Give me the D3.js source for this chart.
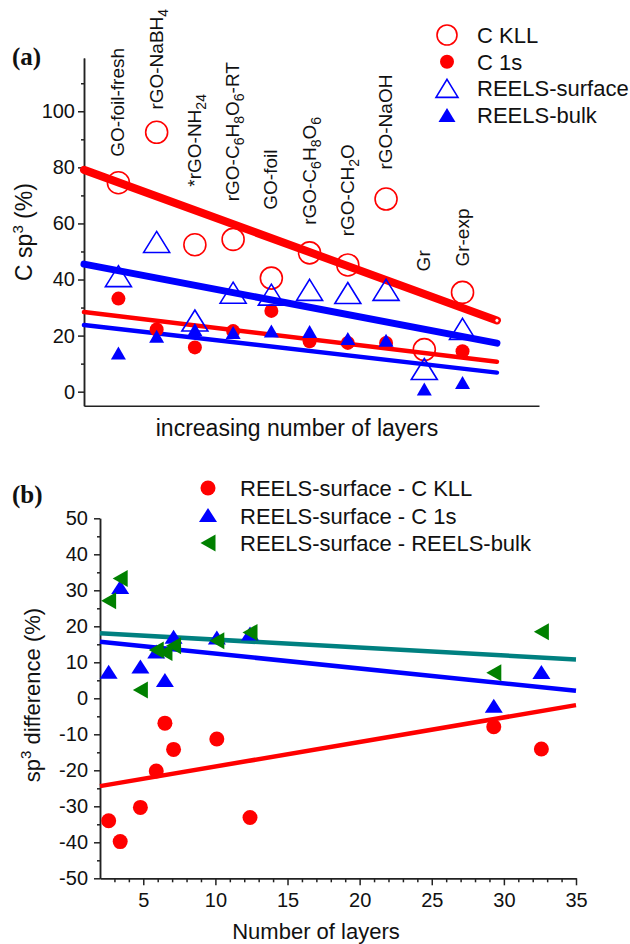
<!DOCTYPE html>
<html>
<head>
<meta charset="utf-8">
<script src="https://cdnjs.cloudflare.com/ajax/libs/d3/7.8.5/d3.min.js"></script>
<style>
  body { margin: 0; background: #fff; }
  svg text { font-family: "Liberation Sans", Arial, sans-serif; fill: #111; }
  .axis path, .axis line { stroke: #222; stroke-width: 1.5px; }
  .axis text { font-size: 20px; fill: #111; }
</style>
</head>
<body>
<div class="chart"></div>
<script>
////////////////////////////////// data

// panel (a): samples, "_" marks a subscript digit
var categories = ["GO-foil-fresh", "rGO-NaBH_4", "*rGO-NH_2_4", "rGO-C_6H_8O_6-RT", "GO-foil",
                  "rGO-C_6H_8O_6", "rGO-CH_2O", "rGO-NaOH", "Gr", "Gr-exp"];
var labelBase = [83.8, 100.6, 73.1, 67.9, 64.9, 59.5, 55.4, 79.2, 42.9, 44.6];

var cKLL = [74.5, 92.5, 52.4, 54.3, 40.5, 49.5, 45.2, 68.7, 15.0, 35.4];
var c1s = [33.2, 22.2, 15.8, 21.6, 28.8, 18.0, 17.4, 17.4, null, 14.4];
var reelsSurface = [41.2, 53.4, 25.4, 35.3, 34.6, 36.3, 35.2, 36.3, 8.1, 22.4];
var reelsBulk = [13.8, 19.8, 22.2, 21.1, 21.6, 21.5, 19.0, 18.3, 1.0, 3.3];

// linear fits, [x, y] ends
var fitKLL = [[0.1, 79.1], [10.9, 25.4]];
var fitSurface = [[0.1, 45.5], [10.9, 17.3]];
var fit1s = [[0.1, 28.4], [10.9, 10.7]];
var fitBulk = [[0.1, 23.8], [10.9, 6.8]];

var yTicksA = [0, 20, 40, 60, 80, 100];

// panel (b)
var layers = [2.6, 3.4, 4.8, 5.9, 6.5, 7.1, 10.1, 12.4, 29.3, 32.6];
var diffKLL = [-34.0, -39.8, -30.3, -20.2, -6.9, -14.2, -11.3, -33.1, -7.9, -14.1];
var diff1s = [7.4, 30.9, 8.8, 13.0, 5.1, 17.1, 16.9, 18.0, -2.1, 7.3];
var diffBulk = [27.1, 33.3, 2.3, 13.4, 12.7, 14.6, 16.0, 18.3, 7.1, 18.5];

var fitDiffKLL = [[2, -24.4], [35, -1.9]];
var fitDiff1s = [[2, 15.7], [35, 2.1]];
var fitDiffBulk = [[2, 18.05], [35, 10.8]];

var yTicksB = [-50, -40, -30, -20, -10, 0, 10, 20, 30, 40, 50];
var xTicksB = [5, 10, 15, 20, 25, 30, 35];

var legendA = ["C KLL", "C 1s", "REELS-surface", "REELS-bulk"];
var legendB = ["REELS-surface - C KLL", "REELS-surface - C 1s", "REELS-surface - REELS-bulk"];

////////////////////////////////// helpers

var RED = "#ff0000", BLUE = "#0000ff", GREEN = "#008000", TEAL = "#008080";

// triangle path centred on its bounding box
function triUp(w, h) {
    return "M0," + (-h / 2) + "L" + (w / 2) + "," + (h / 2) + "L" + (-w / 2) + "," + (h / 2) + "Z";
}
function triLeft(w, h) {
    return "M" + (-w / 2) + ",0L" + (w / 2) + "," + (-h / 2) + "L" + (w / 2) + "," + (h / 2) + "Z";
}

// writes "abc_4" as text with subscript tspans
function richText(sel, str, subSize) {
    var parts = str.split(/(_\d)/).filter(function(p) { return p.length; });
    var down = false;
    parts.forEach(function(p) {
        var t = sel.append("tspan");
        if (p[0] == "_") {
            t.text(p.slice(1)).style("font-size", subSize + "px").attr("dy", down ? 0 : 5);
            down = true;
        } else {
            t.text(p).attr("dy", down ? -5 : 0);
            down = false;
        }
    });
}

var svg = d3.select(".chart").append("svg").attr("width", 630).attr("height", 944);

////////////////////////////////// panel (a)

var xa = d3.scaleLinear().domain([0.1, 12]).range([84, 539]);
var ya = d3.scaleLinear().domain([-5, 119]).range([405.7, 58]);
var gA = svg.append("g");

gA.append("g").attr("class", "axis").attr("transform", "translate(84,0)")
    .call(d3.axisLeft(ya).tickValues([10, 30, 50, 70, 90, 110]).tickSize(3).tickSizeOuter(0).tickFormat(""));
gA.append("g").attr("class", "axis").attr("transform", "translate(84,0)")
    .call(d3.axisLeft(ya).tickValues(yTicksA).tickSize(6).tickSizeOuter(0).tickPadding(3));
gA.append("g").attr("class", "axis").attr("transform", "translate(0,405.7)")
    .call(d3.axisBottom(xa).tickValues([]).tickSizeOuter(0));

var line = d3.line();
function fitLine(g, pts, xs, ys, color, w) {
    g.append("path")
        .attr("d", line(pts.map(function(p) { return [xs(p[0]), ys(p[1])]; })))
        .attr("fill", "none").attr("stroke", color).attr("stroke-width", w)
        .attr("stroke-linecap", "round");
}
fitLine(gA, fitKLL, xa, ya, RED, 8);
fitLine(gA, fitSurface, xa, ya, BLUE, 7);
fitLine(gA, fit1s, xa, ya, RED, 4.5);
fitLine(gA, fitBulk, xa, ya, BLUE, 4.5);
// small white end marker on the thick red fit
gA.append("circle").attr("cx", xa(fitKLL[1][0])).attr("cy", ya(fitKLL[1][1])).attr("r", 2)
    .attr("fill", "#fff").attr("stroke", RED).attr("stroke-width", 0.8);

var idx = d3.range(categories.length);

gA.selectAll(".kll").data(idx).enter().append("circle")
    .attr("cx", function(i) { return xa(i + 1); })
    .attr("cy", function(i) { return ya(cKLL[i]); })
    .attr("r", 11).attr("fill", "none").attr("stroke", RED).attr("stroke-width", 1.6);

gA.selectAll(".c1s").data(idx.filter(function(i) { return c1s[i] != null; })).enter().append("circle")
    .attr("cx", function(i) { return xa(i + 1); })
    .attr("cy", function(i) { return ya(c1s[i]); })
    .attr("r", 7).attr("fill", RED);

gA.selectAll(".surf").data(idx).enter().append("path")
    .attr("d", triUp(26, 21))
    .attr("transform", function(i) { return "translate(" + xa(i + 1) + "," + ya(reelsSurface[i]) + ")"; })
    .attr("fill", "none").attr("stroke", BLUE).attr("stroke-width", 1.6);

gA.selectAll(".bulk").data(idx).enter().append("path")
    .attr("d", triUp(15, 13))
    .attr("transform", function(i) { return "translate(" + xa(i + 1) + "," + ya(reelsBulk[i]) + ")"; })
    .attr("fill", BLUE);

// rotated sample labels
idx.forEach(function(i) {
    var t = gA.append("text")
        .attr("transform", "translate(" + (xa(i + 1) + 6) + "," + ya(labelBase[i]) + ") rotate(-90)")
        .style("font-size", "19px");
    richText(t, categories[i], 14);
});

// axis titles
var ttlA = gA.append("text").attr("transform", "translate(32,232) rotate(-90)")
    .attr("text-anchor", "middle").style("font-size", "23px");
ttlA.append("tspan").text("C sp");
ttlA.append("tspan").text("3").style("font-size", "15px").attr("dy", -9);
ttlA.append("tspan").text(" (%)").attr("dy", 9);

gA.append("text").attr("x", 297).attr("y", 436).attr("text-anchor", "middle")
    .style("font-size", "23px").text("increasing number of layers");

gA.append("text").attr("x", 12).attr("y", 65)
    .style("font-family", "'Liberation Serif', 'Times New Roman', serif")
    .style("font-weight", "bold").style("font-size", "25px").text("(a)");

// legend (a)
var legA = gA.append("g").attr("transform", "translate(447,35)");
legA.append("circle").attr("cy", 0).attr("r", 10).attr("fill", "none").attr("stroke", RED).attr("stroke-width", 1.6);
legA.append("circle").attr("cy", 26.7).attr("r", 7).attr("fill", RED);
legA.append("path").attr("d", triUp(22, 18)).attr("transform", "translate(0,53.4)")
    .attr("fill", "none").attr("stroke", BLUE).attr("stroke-width", 1.6);
legA.append("path").attr("d", triUp(17, 14)).attr("transform", "translate(0,80)").attr("fill", BLUE);
legA.selectAll("text").data(legendA).enter().append("text")
    .attr("x", 30).attr("y", function(d, i) { return i * 26.7 + 8; })
    .style("font-size", "22px").text(function(d) { return d; });

////////////////////////////////// panel (b)

var xb = d3.scaleLinear().domain([2, 35]).range([100, 576]);
var yb = d3.scaleLinear().domain([-50, 50]).range([878.3, 518.3]);
var gB = svg.append("g");

gB.append("g").attr("class", "axis").attr("transform", "translate(100,0)")
    .call(d3.axisLeft(yb).tickValues(d3.range(-45, 50, 10)).tickSize(3).tickSizeOuter(0).tickFormat(""));
gB.append("g").attr("class", "axis").attr("transform", "translate(100,0)")
    .call(d3.axisLeft(yb).tickValues(yTicksB).tickSize(6).tickSizeOuter(0).tickPadding(6)
        .tickFormat(d3.format("d")));
gB.append("g").attr("class", "axis").attr("transform", "translate(0,878.3)")
    .call(d3.axisBottom(xb).tickValues(d3.range(3, 35).filter(function(v) { return v % 5; }))
        .tickSize(4).tickSizeOuter(0).tickFormat(""));
gB.append("g").attr("class", "axis").attr("transform", "translate(0,878.3)")
    .call(d3.axisBottom(xb).tickValues(xTicksB).tickSize(7).tickSizeOuter(0).tickPadding(8));
// hyphen instead of unicode minus, like the original
gB.selectAll(".axis text").each(function() {
    var s = d3.select(this); s.text(s.text().replace("\u2212", "-"));
});

fitLine(gB, fitDiffBulk, xb, yb, TEAL, 4.5);
fitLine(gB, fitDiff1s, xb, yb, BLUE, 4.5);
fitLine(gB, fitDiffKLL, xb, yb, RED, 4.5);
gB.selectAll("path[stroke-linecap]").attr("stroke-linecap", "butt");

var idxB = d3.range(layers.length);
gB.selectAll(".dk").data(idxB).enter().append("circle")
    .attr("cx", function(i) { return xb(layers[i]); })
    .attr("cy", function(i) { return yb(diffKLL[i]); })
    .attr("r", 7.5).attr("fill", RED);
gB.selectAll(".d1").data(idxB).enter().append("path")
    .attr("d", triUp(18, 14))
    .attr("transform", function(i) { return "translate(" + xb(layers[i]) + "," + yb(diff1s[i]) + ")"; })
    .attr("fill", BLUE);
gB.selectAll(".db").data(idxB).enter().append("path")
    .attr("d", triLeft(15, 17))
    .attr("transform", function(i) { return "translate(" + xb(layers[i]) + "," + yb(diffBulk[i]) + ")"; })
    .attr("fill", GREEN);

var ttlB = gB.append("text").attr("transform", "translate(40,695) rotate(-90)")
    .attr("text-anchor", "middle").style("font-size", "22px");
ttlB.append("tspan").text("sp");
ttlB.append("tspan").text("3").style("font-size", "15px").attr("dy", -9);
ttlB.append("tspan").text(" difference (%)").attr("dy", 9);

gB.append("text").attr("x", 316).attr("y", 939).attr("text-anchor", "middle")
    .style("font-size", "22px").text("Number of layers");

gB.append("text").attr("x", 12).attr("y", 503)
    .style("font-family", "'Liberation Serif', 'Times New Roman', serif")
    .style("font-weight", "bold").style("font-size", "25px").text("(b)");

// legend (b)
var legB = gB.append("g").attr("transform", "translate(208,488)");
legB.append("circle").attr("r", 7.5).attr("fill", RED);
legB.append("path").attr("d", triUp(18, 14)).attr("transform", "translate(0,27)").attr("fill", BLUE);
legB.append("path").attr("d", triLeft(15, 17)).attr("transform", "translate(0,55)").attr("fill", GREEN);
legB.selectAll("text").data(legendB).enter().append("text")
    .attr("x", 32).attr("y", function(d, i) { return i * 27.5 + 8; })
    .style("font-size", "22px").text(function(d) { return d; });
</script>
</body>
</html>
